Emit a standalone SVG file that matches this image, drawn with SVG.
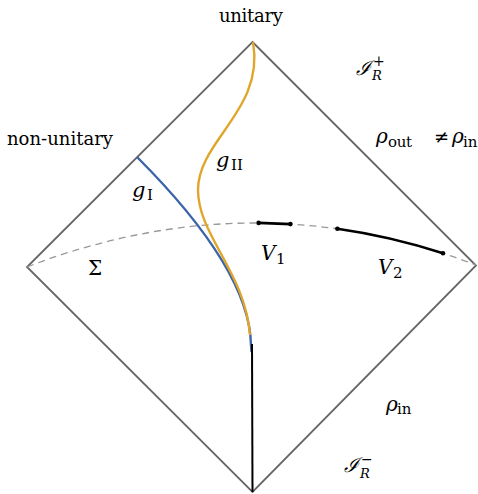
<svg xmlns="http://www.w3.org/2000/svg" width="478" height="494" viewBox="0 0 478 494">
<style>
.edge{fill:none;stroke:#666;stroke-width:1.8;stroke-linejoin:miter}
.slice{fill:none;stroke:#999;stroke-width:1.3;stroke-dasharray:7 5}
.reg{fill:none;stroke:#000;stroke-width:2.6;stroke-linecap:round}
.dot{fill:#000}
text{fill:#000}
.m{font-style:italic}
.sub{font-size:15px}
</style>
<rect width="478" height="494" fill="#fff"/>
<g id="diamond">
<path class="edge" d="M252.5,42 L476,265.5 L252.5,492 L27,267 Z"/>
</g>
<g id="slice">
<path class="slice" d="M27,267 Q253,180 476,265"/>
</g>
<g id="connectors">
<path id="gI" d="M137,157 C185,205 250,280 251,345 L251.5,352" fill="none" stroke="#3b65a8" stroke-width="2.4"/>
<path id="gII" d="M253,42 C265,110 198,140 198,190 C198,235 245,272 250,335" fill="none" stroke="#e0a52b" stroke-width="2.4"/>
<path id="axis" d="M252,344 L252.5,492" fill="none" stroke="#000" stroke-width="2"/>
</g>
<g id="V1">
<path class="reg" d="M258.6,222.9 L290.4,224.1"/>
<circle class="dot" cx="258.6" cy="222.9" r="2.3"/>
<circle class="dot" cx="290.4" cy="224.1" r="2.3"/>
</g>
<g id="V2">
<path class="reg" d="M337.4,228.8 Q390.2,236.3 443,253.3"/>
<circle class="dot" cx="337.4" cy="228.8" r="2.3"/>
<circle class="dot" cx="443" cy="253.3" r="2.3"/>
</g>
<g id="labels" font-family="DejaVu Serif, serif">
<text x="219" y="22" font-size="18" textLength="64">unitary</text>
<text x="7" y="145" font-size="18" textLength="106">non-unitary</text>
<text class="m" x="356" y="75" font-size="20">ℐ</text>
<text class="m" x="372" y="80" font-size="13">R</text>
<text x="373" y="66" font-size="14">+</text>
<text class="m" x="376" y="143" font-size="20">ρ</text>
<text class="sub" x="388" y="147" textLength="24">out</text>
<text x="434" y="143" font-size="18">≠</text>
<text class="m" x="452" y="143" font-size="20">ρ</text>
<text class="sub" x="463" y="147">in</text>
<text class="m" x="132" y="197" font-size="21">g</text>
<text class="sub" x="147" y="200">I</text>
<text class="m" x="216" y="167" font-size="21">g</text>
<text class="sub" x="231" y="170">II</text>
<text class="m" x="261" y="260" font-size="20">V</text>
<text class="sub" x="276" y="264">1</text>
<text class="m" x="378" y="274" font-size="20">V</text>
<text class="sub" x="393" y="278">2</text>
<text x="88" y="275" font-size="20">Σ</text>
<text class="m" x="386" y="411" font-size="20">ρ</text>
<text class="sub" x="397" y="414">in</text>
<text class="m" x="344" y="472" font-size="20">ℐ</text>
<text class="m" x="360" y="478" font-size="13">R</text>
<text x="361" y="464" font-size="14">−</text>
</g>
</svg>
